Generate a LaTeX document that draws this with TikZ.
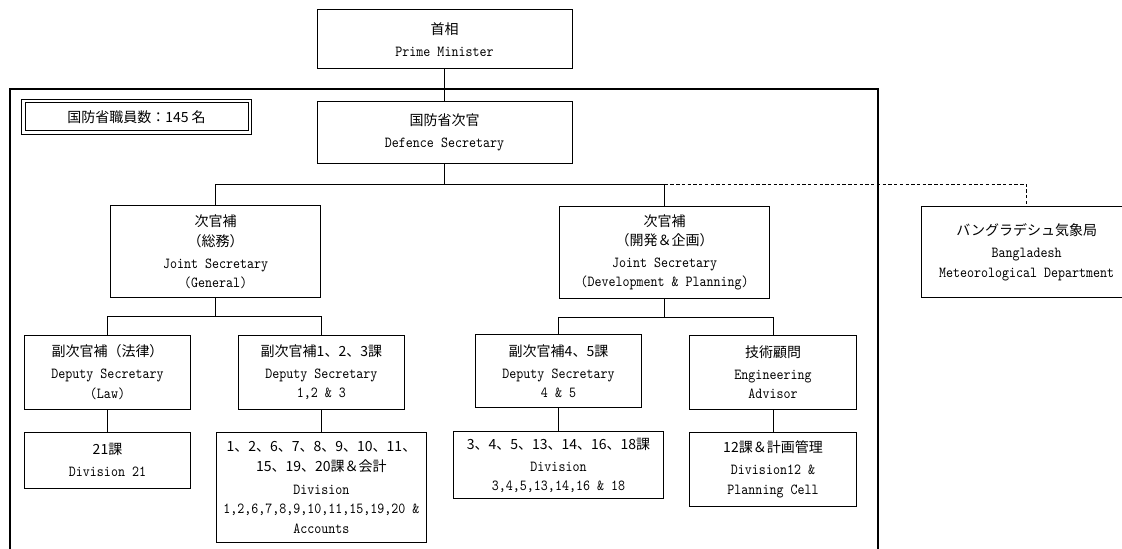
\documentclass[tikz,border=0pt]{standalone}
\usepackage{fontspec}
\usetikzlibrary{calc}
\newfontfamily\jpfont{Noto Sans CJK JP}
\newfontfamily\enfont{lmmono10-regular.otf}[FakeStretch=0.87]
\newcommand\jp{\jpfont\fontsize{10.5}{14.5}\selectfont}

\begin{document}
\begin{tikzpicture}[x=0.75pt,y=-0.75pt,
    box/.style={draw,line width=0.75pt,align=center,inner sep=1pt,
      font=\enfont\fontsize{11.5}{14.5}\selectfont},
    wbox/.style={box,minimum width=157.5pt},
    nbox/.style={box,minimum width=125pt},
    link/.style={line width=0.75pt},
    dlink/.style={line width=0.75pt,dash pattern=on 2.5pt off 1.8pt}]
\useasboundingbox (0,0) rectangle (1122,549);
\clip (0,0) rectangle (1122,549);

% outer frame of the ministry
\draw[line width=1.5pt] (9.6,560) |- (878,89) -- (878,560);

\node[box,minimum width=191.25pt,minimum height=44.25pt] (pm) at (444.5,39.5)
  {{\jp 首相}\\[2pt]Prime Minister};
\node[box,minimum width=191.25pt,minimum height=46.5pt] (ds) at (444.5,132.8)
  {{\jp 国防省次官}\\[2pt]Defence Secretary};

% staff count, double frame
\node[box,minimum width=167.25pt,minimum height=21pt] (staff) at (136.5,117)
  {\jp 国防省職員数：145 名};
\draw[line width=0.75pt] ($(staff.south west)+(-1.9pt,-1.9pt)$)
  rectangle ($(staff.north east)+(1.9pt,1.9pt)$);

\node[wbox,minimum height=69pt] (jsg) at (215.7,252)
  {{\jp 次官補}\\{\jp （総務）}\\[2pt]Joint Secretary\\(General)};
\node[wbox,minimum height=69pt] (jsd) at (664.7,252.5)
  {{\jp 次官補}\\{\jp （開発＆企画）}\\[2pt]Joint Secretary\\(Development \& Planning)};
\node[wbox,minimum height=68.25pt] (bmd) at (1026.7,252.2)
  {{\jp バングラデシュ気象局}\\[2pt]Bangladesh\\Meteorological Department};

\node[nbox,minimum height=55.5pt] (dsl) at (107.5,372)
  {{\jp 副次官補（法律）}\\[2pt]Deputy Secretary\\(Law)};
\node[nbox,minimum height=55.5pt] (ds123) at (321.4,372)
  {{\jp 副次官補1、2、3課}\\[2pt]Deputy Secretary\\1,2 \& 3};
\node[nbox,minimum height=55pt] (ds45) at (558.5,371)
  {{\jp 副次官補4、5課}\\[2pt]Deputy Secretary\\4 \& 5};
\node[nbox,minimum height=55.5pt] (ea) at (773,372)
  {{\jp 技術顧問}\\[2pt]Engineering\\Advisor};

\node[nbox,minimum height=42pt] (div21) at (107.5,460.3)
  {{\jp 21課}\\[2pt]Division 21};
\node[wbox,minimum height=82.5pt] (div1) at (321.4,487.3)
  {{\jp 1、2、6、7、8、9、10、11、}\\{\jp 15、19、20課＆会計}\\[3pt]Division\\
   1,2,6,7,8,9,10,11,15,19,20 \&\\Accounts};
\node[wbox,minimum height=50.5pt] (div345) at (558.5,465.3)
  {{\jp 3、4、5、13、14、16、18課}\\[2pt]Division\\3,4,5,13,14,16 \& 18};
\node[nbox,minimum height=55.3pt] (div12) at (773,469.2)
  {{\jp 12課＆計画管理}\\[2pt]Division12 \&\\Planning Cell};

\coordinate (bus1) at (444.5,184.5);
\coordinate (bus2) at (215.7,316.7);
\coordinate (bus3) at (664.7,317.3);

\draw[link] (pm.south) -- (ds.north);
\draw[link] (ds.south) -- (bus1);
\draw[link] (jsg.north) |- (bus1) -| (jsd.north);
\draw[dlink] (jsd.north |- bus1) -| (bmd.north);

\draw[link] (jsg.south) -- (bus2);
\draw[link] (dsl.north) |- (bus2) -| (ds123.north);
\draw[link] (jsd.south) -- (bus3);
\draw[link] (ds45.north) |- (bus3) -| (ea.north);

\draw[link] (dsl.south) -- (div21.north);
\draw[link] (ds123.south) -- (div1.north);
\draw[link] (ds45.south) -- (div345.north);
\draw[link] (ea.south) -- (div12.north);
\end{tikzpicture}
\end{document}
